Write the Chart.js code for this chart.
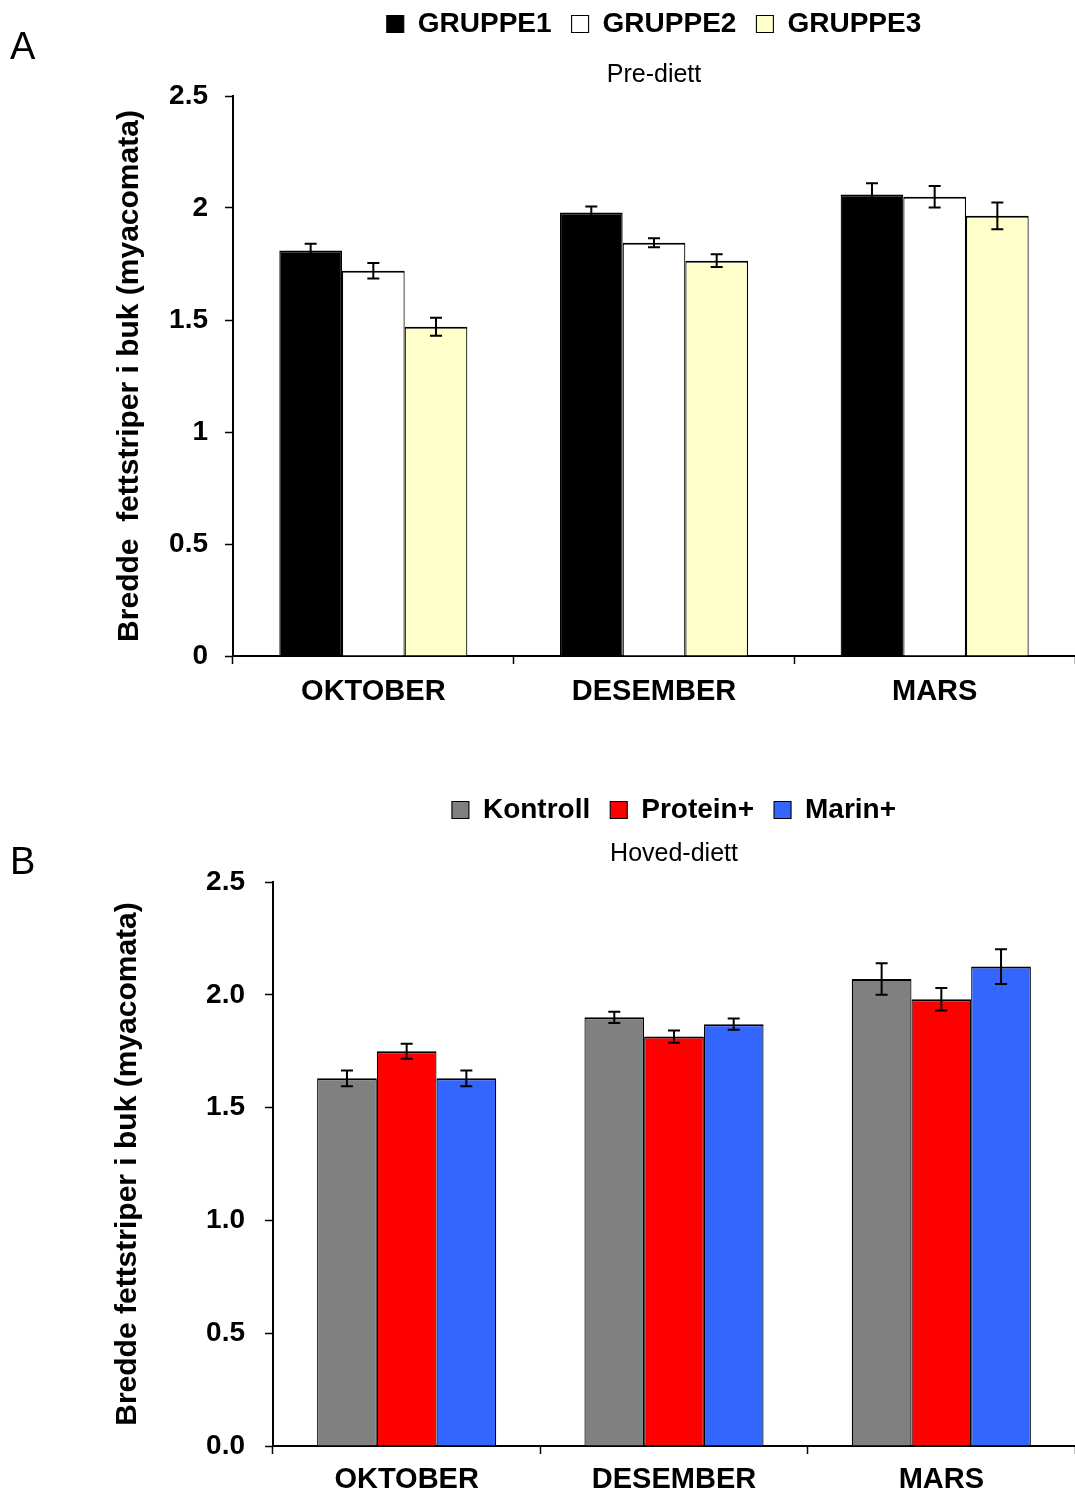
<!DOCTYPE html>
<html>
<head>
<meta charset="utf-8">
<script src="https://cdn.jsdelivr.net/npm/chart.js@4/dist/chart.umd.min.js"></script>
<style>
  body { margin: 0; background: #fff; width: 1075px; height: 1497px; position: relative; overflow: hidden; font-family: "Liberation Sans", Arial, sans-serif; }
  canvas { position: absolute; left: 0; }
  #chart-a { top: -10px; }
  #chart-b { top: 776px; }
  .panel { position: absolute; left: 10px; font-size: 38px; line-height: 1; color: #000; }
</style>
</head>
<body>
<canvas id="chart-a" width="1075" height="743"></canvas>
<canvas id="chart-b" width="1075" height="721"></canvas>
<div class="panel" style="top: 27px">A</div>
<div class="panel" style="top: 842px">B</div>
<script>
const months = ['OKTOBER', 'DESEMBER', 'MARS']

// A: Pre-diett
const preLabels = ['GRUPPE1', 'GRUPPE2', 'GRUPPE3']
const gruppe1 = [1.81, 1.98, 2.06]
const gruppe1Err = [0.03, 0.027, 0.05]
const gruppe2 = [1.72, 1.845, 2.05]
const gruppe2Err = [0.035, 0.02, 0.048]
const gruppe3 = [1.47, 1.765, 1.965]
const gruppe3Err = [0.04, 0.028, 0.06]
const preTicks = ['0', '0.5', '1', '1.5', '2', '2.5']

// B: Hoved-diett
const mainLabels = ['Kontroll', 'Protein+', 'Marin+']
const kontroll = [1.63, 1.90, 2.07]
const kontrollErr = [0.035, 0.025, 0.07]
const protein = [1.75, 1.815, 1.98]
const proteinErr = [0.033, 0.027, 0.05]
const marin = [1.63, 1.87, 2.125]
const marinErr = [0.035, 0.025, 0.077]
const mainTicks = ['0.0', '0.5', '1.0', '1.5', '2.0', '2.5']

const FONT = '"Liberation Sans", Arial, sans-serif'

const errorBars = {
  id: 'errorBars',
  afterDatasetsDraw (chart) {
    const ctx = chart.ctx
    const yScale = chart.scales.y
    ctx.save()
    ctx.strokeStyle = '#000'
    ctx.lineWidth = 2
    chart.data.datasets.forEach((ds, i) => {
      const meta = chart.getDatasetMeta(i)
      meta.data.forEach((bar, j) => {
        const hi = yScale.getPixelForValue(ds.data[j] + ds.errors[j])
        const lo = yScale.getPixelForValue(ds.data[j] - ds.errors[j])
        ctx.beginPath()
        ctx.moveTo(bar.x, hi)
        ctx.lineTo(bar.x, lo)
        ctx.moveTo(bar.x - 6, hi)
        ctx.lineTo(bar.x + 6, hi)
        ctx.moveTo(bar.x - 6, lo)
        ctx.lineTo(bar.x + 6, lo)
        ctx.stroke()
      })
    })
    ctx.restore()
  }
}

function dataset (label, data, errors, color) {
  return {
    label,
    data,
    errors,
    backgroundColor: color,
    borderColor: '#000',
    borderWidth: { top: 2, left: 1.2, right: 1.2, bottom: 0 },
    categoryPercentage: 0.67,
    barPercentage: 1.0
  }
}

function makeChart (id, cfg) {
  return new Chart(document.getElementById(id), {
    type: 'bar',
    data: { labels: months, datasets: cfg.datasets },
    plugins: [errorBars],
    options: {
      responsive: false,
      animation: false,
      devicePixelRatio: 1,
      layout: { padding: { top: 0, left: 0, right: 0, bottom: 0 } },
      plugins: {
        tooltip: { enabled: false },
        legend: {
          position: 'top',
          fullSize: false,
          weight: 3000,
          labels: {
            color: '#000',
            font: { family: FONT, size: 28, weight: 'bold' },
            boxWidth: 17,
            boxHeight: 17,
            padding: 20
          }
        },
        title: {
          display: true,
          text: cfg.title,
          position: 'top',
          fullSize: false,
          weight: 500,
          color: '#000',
          font: { family: FONT, size: 25, weight: 'normal', lineHeight: 1.2 },
          padding: cfg.titlePadding
        }
      },
      scales: {
        x: {
          afterFit (scale) { scale.height = cfg.xHeight },
          grid: {
            display: true,
            drawOnChartArea: false,
            drawTicks: true,
            tickLength: 8,
            tickWidth: 1.5,
            tickColor: '#000',
            offset: true
          },
          border: { display: true, color: '#000', width: 2 },
          ticks: {
            color: '#000',
            padding: cfg.xPad,
            font: { family: FONT, size: 29, weight: 'bold', lineHeight: 1.2 }
          }
        },
        y: {
          min: 0,
          max: 2.5,
          afterFit (scale) { scale.width = cfg.axisX },
          grid: {
            display: true,
            drawOnChartArea: false,
            drawTicks: true,
            tickLength: 8,
            tickWidth: 1.5,
            tickColor: '#000'
          },
          border: { display: true, color: '#000', width: 2 },
          ticks: {
            stepSize: 0.5,
            color: '#000',
            padding: cfg.yPad,
            font: { family: FONT, size: 28, weight: 'bold' },
            callback: (value, index) => cfg.ticks[index]
          },
          title: {
            display: true,
            text: cfg.yTitle,
            color: '#000',
            font: { family: FONT, size: 30, weight: 'bold', lineHeight: 1.2 },
            padding: { top: cfg.yTitleTop, bottom: 0 }
          }
        }
      }
    }
  })
}

makeChart('chart-a', {
  datasets: [
    dataset(preLabels[0], gruppe1, gruppe1Err, '#000000'),
    dataset(preLabels[1], gruppe2, gruppe2Err, '#FFFFFF'),
    dataset(preLabels[2], gruppe3, gruppe3Err, '#FFFFCC')
  ],
  title: 'Pre-diett',
  titlePadding: { top: 12, bottom: 6 },
  ticks: preTicks,
  yTitle: 'Bredde  fettstriper i buk (myacomata)',
  yTitleTop: 112,
  axisX: 233,
  xHeight: 77,
  xPad: 11,
  yPad: 17
})

makeChart('chart-b', {
  datasets: [
    dataset(mainLabels[0], kontroll, kontrollErr, '#808080'),
    dataset(mainLabels[1], protein, proteinErr, '#FF0000'),
    dataset(mainLabels[2], marin, marinErr, '#3366FF')
  ],
  title: 'Hoved-diett',
  titlePadding: { top: 5, bottom: 13 },
  ticks: mainTicks,
  yTitle: 'Bredde fettstriper i buk (myacomata)',
  yTitleTop: 110,
  axisX: 273,
  xHeight: 51,
  xPad: 9,
  yPad: 20
})
</script>
</body>
</html>
